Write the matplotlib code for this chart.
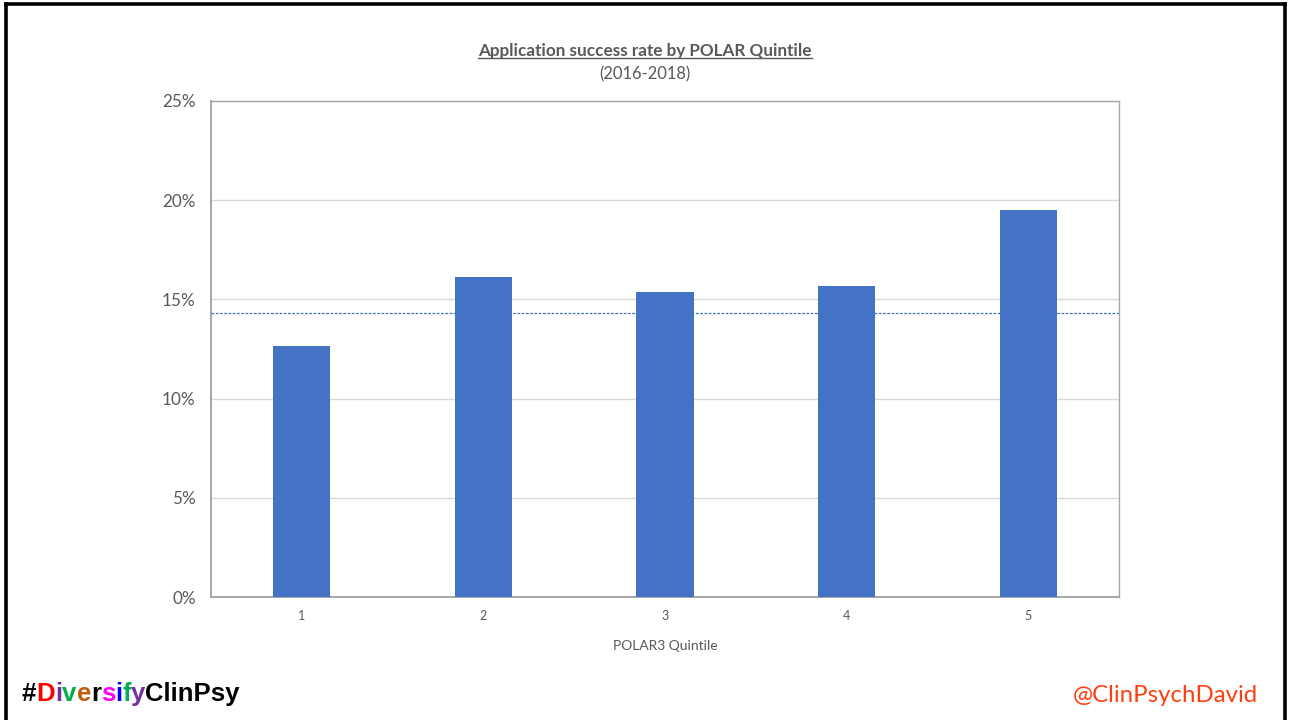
import matplotlib
matplotlib.use("Agg")
import matplotlib.pyplot as plt
from matplotlib.lines import Line2D
from matplotlib.ticker import FuncFormatter

# Data
quintiles = ["1", "2", "3", "4", "5"]
success_rate = [12.65, 16.13, 15.37, 15.68, 19.50]   # percent
overall_rate = 14.31                                 # percent, dashed reference line
y_ticks = [0, 5, 10, 15, 20, 25]

title = "Application success rate by POLAR Quintile"
subtitle = "(2016-2018)"
x_label = "POLAR3 Quintile"
hashtag_parts = [("#", "#000000"), ("D", "#FF0000"), ("i", "#7030A0"),
                 ("v", "#00B050"), ("e", "#C55A11"), ("r", "#000000"),
                 ("s", "#FF00FF"), ("i", "#0000FF"), ("f", "#00B050"),
                 ("y", "#7030A0"), ("ClinPsy", "#000000")]
handle = "@ClinPsychDavid"

BAR = "#4472C4"
TXT = "#595959"
FONT = ["Lato", "DejaVu Sans"]
TAG_FONT = ["Liberation Sans", "DejaVu Sans"]

W, H, DPI = 1291, 720, 100
fig = plt.figure(figsize=(W / DPI, H / DPI), dpi=DPI)
fig.patch.set_facecolor("white")

ax = fig.add_axes([211 / W, 1 - 597 / H, (1119 - 211) / W, (597 - 101) / H])
x = list(range(len(quintiles)))
ax.bar(x, success_rate, width=0.314, color=BAR, zorder=3)
ax.axhline(overall_rate, color=BAR, lw=0.9, ls=(0, (2.2, 1.2)), zorder=4)

ax.set_xlim(-0.5, len(quintiles) - 0.5)
ax.set_ylim(0, 25)
ax.set_yticks(y_ticks)
ax.yaxis.set_major_formatter(FuncFormatter(lambda v, p: f"{v:.0f}%"))
ax.set_xticks(x)
ax.set_xticklabels(quintiles)
ax.grid(axis="y", color="#D9D9D9", lw=1.0, zorder=0)
ax.tick_params(axis="both", length=0)
ax.tick_params(axis="y", pad=11, labelsize=12.3, labelcolor=TXT)
ax.tick_params(axis="x", pad=9, labelsize=9, labelcolor=TXT)
for lab in ax.get_xticklabels() + ax.get_yticklabels():
    lab.set_family(FONT)
for side in ["left", "bottom"]:
    ax.spines[side].set_color("#A6A6A6")
    ax.spines[side].set_linewidth(1.4)
for side in ["top", "right"]:
    ax.spines[side].set_color("#A6A6A6")
    ax.spines[side].set_linewidth(1.0)
ax.set_xlabel(x_label, fontsize=10, color=TXT, family=FONT, labelpad=13)

# Titles
t = fig.text(645 / W, 1 - 51 / H, title, ha="center", va="center",
             fontsize=12.3, fontweight="bold", color=TXT, family=FONT)
fig.text(645 / W, 1 - 74 / H, subtitle, ha="center", va="center",
         fontsize=11.9, color=TXT, family=FONT)

fig.canvas.draw()
renderer = fig.canvas.get_renderer()

# Coloured hashtag, letters placed one after another
xpos = 22
for s, c in hashtag_parts:
    tt = fig.text(xpos / W, 1 - 701 / H, s, ha="left", va="baseline",
                  fontsize=18.5, fontweight="bold", color=c, family=TAG_FONT)
    bb = tt.get_window_extent(renderer)
    xpos = bb.x1

fig.text(1258 / W, 1 - 696 / H, handle, ha="right", va="center",
         fontsize=17.3, color="#FF3F0F", family=FONT)

# Underline under the title
fig.canvas.draw()
bb = t.get_window_extent(renderer)
uy = bb.y0 + 1
fig.add_artist(Line2D([bb.x0 / W, bb.x1 / W], [uy / H, uy / H],
                      transform=fig.transFigure, color=TXT, lw=1.0))

# Outer frame (left, top, right)
fr = dict(transform=fig.transFigure, color="black", lw=2.6,
          solid_capstyle="projecting")
fig.add_artist(Line2D([5.5 / W, 5.5 / W], [0, 1 - 3.5 / H], **fr))
fig.add_artist(Line2D([5.5 / W, 1284.5 / W], [1 - 3.5 / H, 1 - 3.5 / H], **fr))
fig.add_artist(Line2D([1284.5 / W, 1284.5 / W], [0, 1 - 3.5 / H], **fr))

fig.savefig("out.png", dpi=DPI, facecolor="white")
